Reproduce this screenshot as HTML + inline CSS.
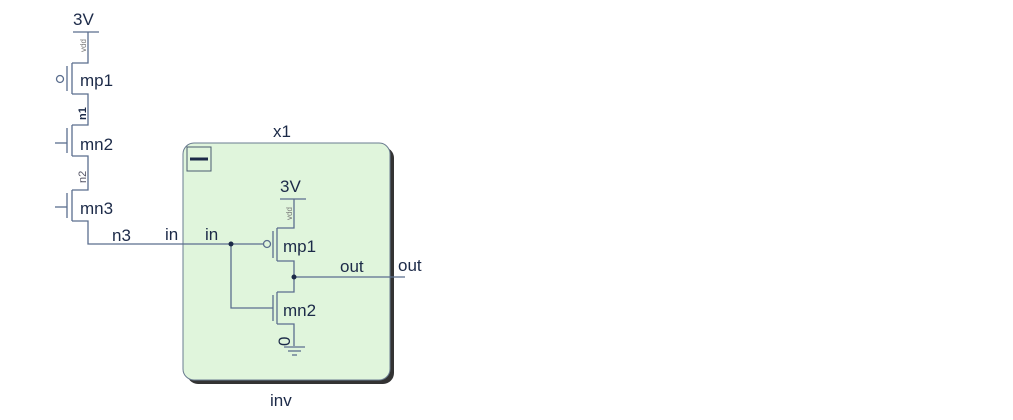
<!DOCTYPE html>
<html><head><style>
html,body{margin:0;padding:0;background:#fff;width:1013px;height:420px;overflow:hidden}
svg{display:block}
text{font-family:"Liberation Sans",sans-serif;fill:#1c2a48}
</style></head><body>
<svg width="1013" height="420" viewBox="0 0 1013 420">
<rect x="187" y="147" width="207" height="237" rx="11" fill="#333"/>
<rect x="183" y="143" width="207" height="237" rx="11" fill="#e0f5dc" stroke="#6a7c90" stroke-width="1"/>
<rect x="187" y="147" width="24" height="24" fill="none" stroke="#4a5a70" stroke-width="1"/>
<line x1="190" y1="159" x2="208" y2="159" stroke="#1c2a48" stroke-width="3"/>
<g stroke="#5b6e8e" stroke-width="1.3" fill="none">
<line x1="73" y1="32" x2="99" y2="32"/>
<path d="M88 32 V63 H72 M72 63 V94 M67 66 V91 M72 94 H88 V125 H72 M72 125 V156 M67 128 V153 M72 156 H88 V190 H72 M72 190 V221 M67 193 V218 M72 221 H88 V244 H231"/>
<circle cx="60" cy="79" r="3.5"/>
<line x1="55" y1="143" x2="67" y2="143"/>
<line x1="55" y1="207" x2="67" y2="207"/>
<line x1="280" y1="199" x2="306" y2="199"/>
<path d="M294 199 V228 H277 M277 228 V261 M273 231 V258 M277 261 H294 V292 H277 M277 292 V324 M273 295 V321 M277 324 H294 V346"/>
<line x1="231" y1="244" x2="263" y2="244"/>
<circle cx="267" cy="244" r="3.5"/>
<path d="M231 244 V308 H273"/>
<line x1="294" y1="277" x2="405" y2="277"/>
<line x1="284" y1="347" x2="305" y2="347"/>
<line x1="288" y1="351" x2="301" y2="351"/>
<line x1="292" y1="355" x2="297" y2="355"/>
</g>
<circle cx="231" cy="244" r="2.5" fill="#1c2a48"/>
<circle cx="294" cy="277" r="2.5" fill="#1c2a48"/>
<g font-size="17">
<text x="73" y="25">3V</text>
<text x="80" y="86">mp1</text>
<text x="80" y="150">mn2</text>
<text x="80" y="214">mn3</text>
<text x="112" y="241">n3</text>
<text x="165" y="240">in</text>
<text x="273" y="137">x1</text>
<text x="270" y="406">inv</text>
<text x="280" y="192">3V</text>
<text x="205" y="240">in</text>
<text x="283" y="252">mp1</text>
<text x="283" y="316">mn2</text>
<text x="340" y="272">out</text>
<text x="398" y="271">out</text>
</g>
<text font-size="8" transform="translate(86,52) rotate(-90)" style="fill:#777">vdd</text>
<text font-size="11" font-weight="bold" transform="translate(86,120) rotate(-90)">n1</text>
<text font-size="11" transform="translate(86,183) rotate(-90)" style="fill:#556">n2</text>
<text font-size="8" transform="translate(292,220) rotate(-90)" style="fill:#777">vdd</text>
<text font-size="17" transform="translate(290,346) rotate(-90)">0</text>
</svg>
</body></html>
